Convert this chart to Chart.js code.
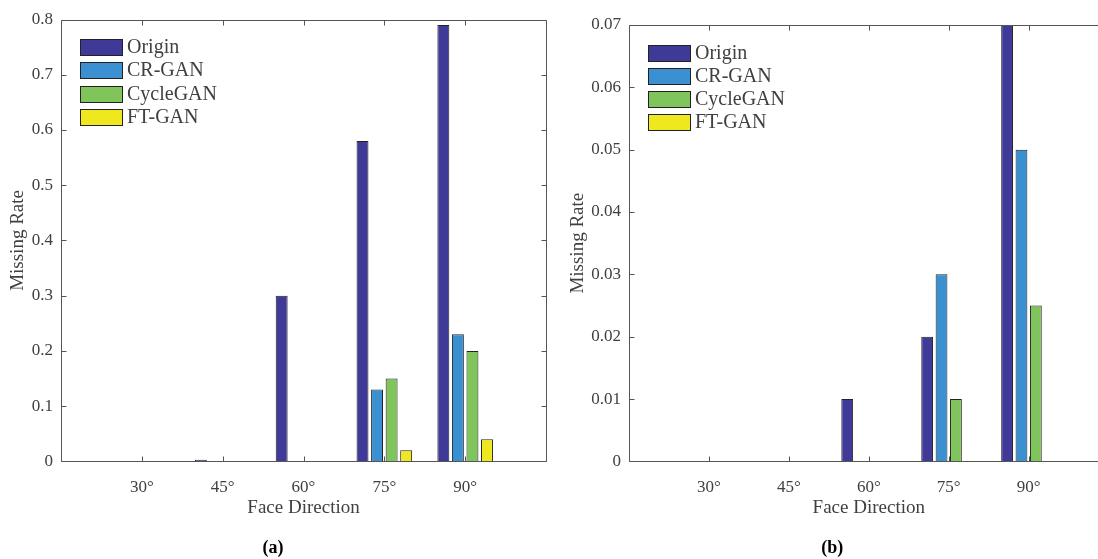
<!DOCTYPE html>
<html>
<head>
<meta charset="utf-8">
<script src="https://cdn.jsdelivr.net/npm/chart.js@4/dist/chart.umd.min.js"></script>
<style>
    html, body { margin: 0; padding: 0; background: #fff; overflow: hidden; width: 1098px; height: 559px; }
    .panel { position: absolute; top: 0; }
</style>
</head>
<body>
<div class="panel" style="left:0px"><canvas id="chart-a" width="556" height="559"></canvas></div>
<div class="panel" style="left:556px"><canvas id="chart-b" width="592" height="559"></canvas></div>
<script>
// labels
const angleLabels = ["30°", "45°", "60°", "75°", "90°"];
const anglePositions = [1, 2, 3, 4, 5];
const seriesNames = ["Origin", "CR-GAN", "CycleGAN", "FT-GAN"];
const seriesColors = ["#3F3A98", "#3A90D0", "#80C45C", "#F0E81E"];

// (a)
const originA = [0, 0.003, 0.3, 0.58, 0.79];
const crganA = [0, 0, 0, 0.13, 0.23];
const cycleganA = [0, 0, 0, 0.15, 0.2];
const ftganA = [0, 0, 0, 0.02, 0.04];

// (b)
const originB = [0, 0, 0.01, 0.02, 0.07];
const crganB = [0, 0, 0, 0.03, 0.05];
const cycleganB = [0, 0, 0, 0.01, 0.025];
const ftganB = [0, 0, 0, 0, 0];

const serif = "'Liberation Serif', 'Times New Roman', serif";
const textGrey = "#404040";
const axisGrey = "#555555";

Chart.defaults.font.family = serif;
Chart.defaults.color = textGrey;

function makeDatasets(values) {
    return values.map((data, i) => ({
        label: seriesNames[i],
        data: data,
        backgroundColor: seriesColors[i],
        borderColor: "#222222",
        borderWidth: 1,
        categoryPercentage: 0.72,
        barPercentage: 0.82
    }));
}

// legend inside the axes, top left
const insideLegend = {
    id: "insideLegend",
    afterDatasetsDraw(chart) {
        const { ctx, chartArea } = chart;
        ctx.save();
        ctx.font = "20px " + serif;
        ctx.textBaseline = "middle";
        chart.data.datasets.forEach((ds, i) => {
            const x = Math.round(chartArea.left + 19);
            const y = Math.round(chartArea.top + 27.5 + i * 23.3);
            ctx.fillStyle = ds.backgroundColor;
            ctx.fillRect(x, y - 8, 43, 17);
            ctx.strokeStyle = "#222222";
            ctx.lineWidth = 1;
            ctx.strokeRect(x + 0.5, y - 7.5, 42, 16);
            ctx.fillStyle = textGrey;
            ctx.fillText(ds.label, x + 47, y + 1);
        });
        ctx.restore();
    }
};

// box around the axes with inward ticks
const axesBox = {
    id: "axesBox",
    afterDatasetsDraw(chart) {
        const { ctx, chartArea } = chart;
        const xs = chart.scales.x;
        const ys = chart.scales.y;
        const l = Math.round(chartArea.left) + 0.5;
        const r = Math.round(chartArea.right) + 0.5;
        const t = Math.round(chartArea.top) + 0.5;
        const b = Math.round(chartArea.bottom) + 0.5;
        const len = 5;
        ctx.save();
        ctx.strokeStyle = axisGrey;
        ctx.lineWidth = 1;
        ctx.beginPath();
        ctx.rect(l, t, r - l, b - t);
        ys.ticks.forEach(tick => {
            const py = Math.round(ys.getPixelForValue(tick.value)) + 0.5;
            ctx.moveTo(l, py); ctx.lineTo(l + len, py);
            ctx.moveTo(r, py); ctx.lineTo(r - len, py);
        });
        xs.ticks.forEach(tick => {
            if (tick.value <= xs.min || tick.value >= xs.max) return;
            const px = Math.round(xs.getPixelForValue(tick.value)) + 0.5;
            ctx.moveTo(px, b); ctx.lineTo(px, b - len);
            ctx.moveTo(px, t); ctx.lineTo(px, t + len);
        });
        ctx.stroke();
        ctx.restore();
    }
};

function makeConfig(datasets, yMax, yStep, decimals, caption, pad, yWidth, yTitlePad) {
    return {
        type: "bar",
        data: {
            labels: anglePositions,
            datasets: datasets
        },
        plugins: [axesBox, insideLegend],
        options: {
            responsive: false,
            animation: false,
            layout: {
                padding: pad
            },
            scales: {
                x: {
                    type: "linear",
                    min: 0,
                    max: 6,
                    offset: false,
                    grid: { display: false, drawTicks: true, tickLength: 12, offset: false },
                    border: { display: false },
                    afterFit: scale => { scale.height = 76; },
                    ticks: {
                        stepSize: 1,
                        autoSkip: false,
                        maxRotation: 0,
                        padding: 4,
                        font: { size: 17 },
                        callback: value => angleLabels[anglePositions.indexOf(value)] || ""
                    },
                    title: {
                        display: true,
                        text: "Face Direction",
                        font: { size: 19 },
                        padding: { top: 0, bottom: 18 }
                    }
                },
                y: {
                    min: 0,
                    max: yMax,
                    grid: { display: false, drawTicks: false },
                    border: { display: false },
                    afterFit: scale => { scale.width = yWidth; },
                    ticks: {
                        stepSize: yStep,
                        padding: 8,
                        font: { size: 17 },
                        callback: value => String(Number(value.toFixed(decimals)))
                    },
                    title: {
                        display: true,
                        text: "Missing Rate",
                        font: { size: 19 },
                        padding: { top: yTitlePad, bottom: 0 }
                    }
                }
            },
            plugins: {
                legend: { display: false },
                tooltip: { enabled: false },
                title: {
                    display: true,
                    position: "bottom",
                    text: caption,
                    color: "#000000",
                    font: { size: 18, weight: "bold" },
                    padding: 0
                }
            }
        }
    };
}

const chartA = new Chart(
    document.getElementById("chart-a"),
    makeConfig(makeDatasets([originA, crganA, cycleganA, ftganA]), 0.8, 0.1, 1, "(a)",
        { top: 19.5, right: 10, left: 0, bottom: 0 }, 61, 7)
);

const chartB = new Chart(
    document.getElementById("chart-b"),
    makeConfig(makeDatasets([originB, crganB, cycleganB, ftganB]), 0.07, 0.01, 2, "(b)",
        { top: 25, right: 39.4, left: 0, bottom: 0 }, 73, 11)
);
</script>
</body>
</html>
